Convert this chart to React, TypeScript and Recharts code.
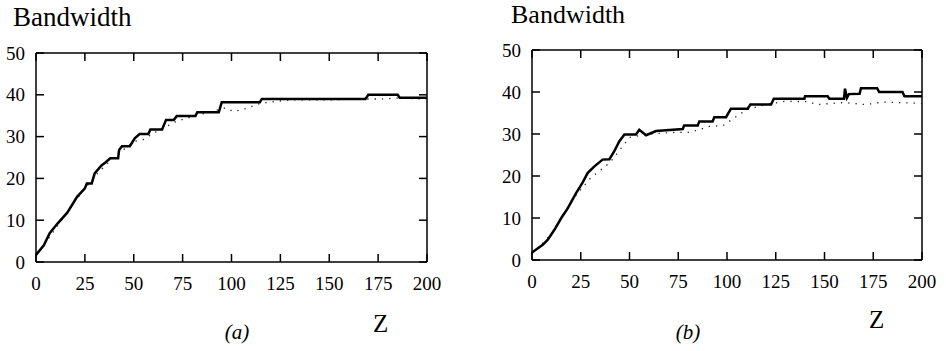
import React from 'react';
import { LineChart, Line, XAxis, YAxis, ReferenceLine } from 'recharts';

// panel (a): solid curve
const aZ = [0, 4, 7, 11, 16, 21, 25, 26, 28.5, 30, 33.5, 35.5, 38, 42, 42.5, 44, 48, 50.5, 53, 57.5, 58.5, 64.5, 66.5, 70.5, 72, 81.5, 82.5, 93.5, 95, 114.5, 115.5, 168.5, 170, 185, 186, 200];
const aBw = [1.7, 4, 6.9, 9.2, 11.8, 15.6, 17.6, 18.8, 18.8, 21.2, 23.1, 23.8, 24.8, 24.8, 26.8, 27.7, 27.7, 29.6, 30.6, 30.6, 31.7, 31.7, 34, 34, 34.9, 34.9, 35.8, 35.8, 38.2, 38.2, 39, 39, 40, 40, 39.3, 39.3];
// panel (a): dotted curve
const aDotZ = [0, 10, 20, 30, 40, 50, 55, 60, 72, 84, 97, 101, 106, 115, 130, 150, 165, 176, 185, 200];
const aDotBw = [1.4, 8, 14.6, 20.5, 25.2, 28.8, 29.3, 30.8, 33.7, 35.3, 36.9, 36, 36.5, 38, 38.8, 38.8, 39, 39, 39.2, 39];

// panel (b): solid curve
const bZ = [0, 5.5, 8, 11.5, 15, 18.3, 22.6, 26, 28.5, 32, 36.2, 39.7, 42.2, 44.8, 47.4, 53.3, 55, 58.5, 63.6, 77.3, 78, 85, 85.8, 92.6, 93.5, 99.5, 102, 110.6, 112, 122.6, 124, 139.7, 140, 151.6, 152.5, 160, 160.5, 161.5, 162.5, 168, 168.7, 177, 178, 190, 191, 200];
const bBw = [1.8, 3.6, 4.8, 7.2, 10, 12.3, 15.9, 18.5, 20.7, 22.3, 23.9, 24, 25.9, 28.3, 29.9, 29.9, 31, 29.7, 30.7, 31.2, 32, 32, 33, 33, 34, 34, 36, 36, 37, 37, 38.4, 38.4, 39, 39, 38.4, 38.4, 40.8, 38.6, 39.5, 39.6, 40.9, 40.9, 40, 40, 39, 39];
// panel (b): dotted curve
const bDotZ = [0, 10, 20, 30, 40, 50, 60, 74, 81, 91, 98, 110, 120, 130, 142, 146, 160, 171, 180, 193, 200];
const bDotBw = [1.4, 6.2, 14, 19.5, 23.2, 29.2, 30, 30.4, 30.4, 31.8, 32, 35.8, 37, 37.8, 37.7, 37, 37.5, 37, 37.6, 37.4, 37.3];

const zTicks = [0, 25, 50, 75, 100, 125, 150, 175, 200];
const bwTicks = [0, 10, 20, 30, 40, 50];

const FONT = 'Liberation Serif';

// one table per panel: solid rows and dotted rows, sorted by z
function mergeRows(sz: number[], sv: number[], dz: number[], dv: number[]) {
  const rows: any[] = [];
  sz.forEach((z, i) => rows.push({ z, solid: sv[i], dotted: null }));
  dz.forEach((z, i) => rows.push({ z, solid: null, dotted: dv[i] }));
  return rows.sort((a, b) => a.z - b.z);
}

// bottom tick: label below, inward mark on bottom and top edge
function makeBottomTick(plotH: number) {
  return (p: any) => {
    const axisY = p.y - 28;
    return (
      <g>
        <line x1={p.x} x2={p.x} y1={axisY} y2={axisY - 8} stroke="#000" strokeWidth={1.5} />
        <line x1={p.x} x2={p.x} y1={axisY - plotH} y2={axisY - plotH + 8} stroke="#000" strokeWidth={1.5} />
        <text x={p.x} y={p.y} textAnchor="middle" fontFamily={FONT} fontSize={19} fill="#000">{p.payload.value}</text>
      </g>
    );
  };
}

// left tick: label to the left, inward mark on left and right edge
function makeLeftTick(plotW: number) {
  return (p: any) => {
    const axisX = p.x + 11;
    return (
      <g>
        <line x1={axisX} x2={axisX + 8} y1={p.y} y2={p.y} stroke="#000" strokeWidth={1.5} />
        <line x1={axisX + plotW} x2={axisX + plotW - 8} y1={p.y} y2={p.y} stroke="#000" strokeWidth={1.5} />
        <text x={p.x} y={p.y + 6.5} textAnchor="end" fontFamily={FONT} fontSize={19} fill="#000">{p.payload.value}</text>
      </g>
    );
  };
}

const axisLine = { stroke: '#000', strokeWidth: 1.5 };

function panel(left: number, yWidth: number, margin: any, plotW: number, plotH: number, rows: any[]) {
  return (
    <div style={{ position: 'absolute', left, top: 0 }}>
      <LineChart width={470} height={351} margin={margin} data={rows}>
        <XAxis dataKey="z" type="number" domain={[0, 200]} ticks={zTicks} interval={0} tickSize={0} tickMargin={28} height={30} axisLine={axisLine} tickLine={false} tick={makeBottomTick(plotH)} />
        <YAxis type="number" domain={[0, 50]} ticks={bwTicks} interval={0} tickSize={0} tickMargin={11} width={yWidth} axisLine={axisLine} tickLine={false} tick={makeLeftTick(plotW)} />
        <ReferenceLine y={50} stroke="#000" strokeWidth={1.5} />
        <ReferenceLine x={200} stroke="#000" strokeWidth={1.5} />
        <Line dataKey="dotted" connectNulls stroke="#222" strokeWidth={1.3} strokeDasharray="1.3 6" dot={false} isAnimationActive={false} />
        <Line dataKey="solid" connectNulls stroke="#000" strokeWidth={2.5} dot={false} isAnimationActive={false} />
      </LineChart>
    </div>
  );
}

const App: React.FC = () => (
  <div style={{ position: 'absolute', left: 0, top: 0, width: 946, height: 351, background: '#fff' }}>
    {panel(0, 36, { top: 53, right: 43, bottom: 59, left: 0 }, 391, 209, mergeRows(aZ, aBw, aDotZ, aDotBw))}
    {panel(476, 56, { top: 50, right: 24, bottom: 61, left: 0 }, 390, 210, mergeRows(bZ, bBw, bDotZ, bDotBw))}
    <svg width={946} height={351} style={{ position: 'absolute', left: 0, top: 0 }}>
      <text x={13} y={26} fontFamily={FONT} fontSize={27}>Bandwidth</text>
      <text x={511} y={23} fontFamily={FONT} fontSize={26}>Bandwidth</text>
      <text x={373} y={332} fontFamily={FONT} fontSize={25}>Z</text>
      <text x={869} y={328} fontFamily={FONT} fontSize={25}>Z</text>
      <text x={237} y={339} fontFamily={FONT} fontStyle="italic" fontSize={21} textAnchor="middle">(a)</text>
      <text x={688} y={339} fontFamily={FONT} fontStyle="italic" fontSize={21} textAnchor="middle">(b)</text>
    </svg>
  </div>
);

export default App;
